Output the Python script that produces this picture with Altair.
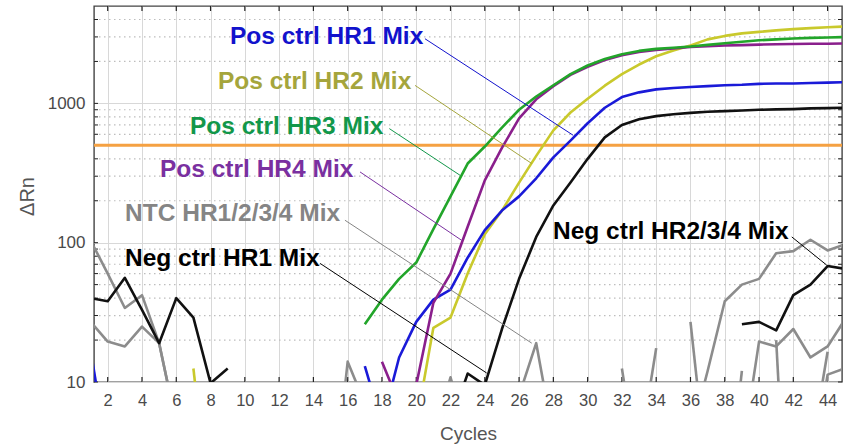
import altair as alt
import pandas as pd

# ---------------- data ----------------
# each series: list of (first_cycle, [consecutive values]) runs; gaps between runs
pos_hr1 = [(1, [17, 3]),
           (17, [13, 5, 15, 27, 39, 46, 78, 123, 170, 215, 290, 410, 540, 720, 930, 1110,
                 1200, 1260, 1290, 1310, 1330, 1350, 1360, 1380, 1390, 1390, 1400, 1410, 1420])]
pos_hr2 = [(7, [12.5, 1]),
           (20, [5, 24.5, 29, 60, 115, 170, 270, 420, 640, 860, 1080, 1340, 1620, 1900, 2180,
                 2400, 2600, 2880, 3050, 3180, 3260, 3340, 3410, 3470, 3520, 3560])]
pos_hr3 = [(17, [26, 39, 55, 72, 125, 215, 370, 490, 670, 900, 1120, 1350, 1620, 1870, 2080,
                 2250, 2380, 2460, 2510, 2560, 2630, 2700, 2770, 2840, 2880, 2920, 2950, 2970, 2990])]
pos_hr4 = [(18, [14, 7, 9.5, 37, 60, 130, 280, 480, 780, 1070, 1330, 1600, 1830, 2050, 2220,
                 2340, 2420, 2480, 2540, 2570, 2600, 2620, 2640, 2660, 2670, 2680, 2680, 2690])]
neg_hr1 = [(1, [40, 38, 56, 33, 19, 40, 29, 9.8, 12.5]),
           (22, [5, 11.5, 9.5, 24, 55, 110, 185, 270, 400, 570, 700, 770, 810, 835, 855, 870,
                 880, 890, 900, 905, 910, 920, 925, 930])]
neg_hr234 = [(39, [26, 27, 23.5, 42, 50, 68, 65])]
ntc = [(1, [104, 60, 34, 42, 19, 5]),
       (1, [27, 19.5, 18, 25, 19, 5]),
       (15, [1, 14, 7]),
       (21, [4, 10.8, 4]),
       (26, [8, 19, 4]),
       (32, [12.5, 2]),
       (33, [3, 17.5]),
       (36, [27, 2]),
       (36, [4, 12, 38, 50, 55, 84, 87, 105, 88, 97]),
       (38, [1, 12]),
       (39, [3, 19.5, 18, 24, 15, 18, 28]),
       (41, [20, 0.1]),
       (43, [3, 16.5]),
       (43, [2, 11.3, 12.5])]

threshold = 500

series_names = ["NTC", "Neg HR2/3/4", "Neg HR1", "Pos HR2", "Pos HR1", "Pos HR4", "Pos HR3"]
series_data = [ntc, neg_hr234, neg_hr1, pos_hr2, pos_hr1, pos_hr4, pos_hr3]
series_colors = ["#8c8c8c", "#111111", "#111111", "#c9c92c", "#1a1ad8", "#8a1f8c", "#22a52a"]

x_ticks = list(range(2, 45, 2))
y_major = [10, 100, 1000]
y_minor = [20, 30, 40, 50, 60, 70, 80, 90, 200, 300, 400, 500, 600, 700, 800, 900, 2000, 3000, 4000]

ann_text = ["Pos ctrl HR1 Mix", "Pos ctrl HR2 Mix", "Pos ctrl HR3 Mix", "Pos ctrl HR4 Mix",
            "NTC HR1/2/3/4 Mix", "Neg ctrl HR1 Mix", "Neg ctrl HR2/3/4 Mix"]
ann_color = ["#1212cc", "#a5a53c", "#12974a", "#7a30a0", "#858585", "#000000", "#000000"]
ann_tx = [9.13, 8.43, 6.8, 5.05, 3.01, 3.01, 27.98]
ann_ty = [3020, 1416, 673, 331, 160, 77, 119]
ann_x1 = [20.51, 19.93, 18.43, 16.72, 15.84, 14.39, 41.91]
ann_y1 = [2910, 1346, 659, 322, 145, 71, 110]
ann_x2 = [29.16, 26.74, 22.55, 22.65, 26.74, 24.11, 43.95]
ann_y2 = [590, 370, 305, 104, 19, 11.6, 69]

# ---------------- chart ----------------
W, H = 748, 376
FONT = "Liberation Sans"

rows = []
for name, runs in zip(series_names, series_data):
    for k, (start, vals) in enumerate(runs):
        for i, v in enumerate(vals):
            rows.append({"series": name, "seg": f"{name}-{k}", "cycle": start + i, "value": v})
df = pd.DataFrame(rows)

xs = alt.Scale(domain=[1.2, 44.84], nice=False, zero=False)
ys = alt.Scale(type="log", domain=[10, 5000], nice=False)

x_axis = alt.Axis(values=x_ticks, grid=True, gridColor="#d8d8d8", gridWidth=1, ticks=False,
                  domain=False, labelFont=FONT, labelFontSize=16.5, labelColor="#4a4a4a",
                  labelPadding=10, labelOverlap=False, labelSeparation=0, title="Cycles",
                  titleFont=FONT, titleFontSize=19, titleFontWeight="normal",
                  titleColor="#555555", titleY=51, titleBaseline="middle", labelFlush=False)
y_axis = alt.Axis(values=y_major, grid=True, gridColor="#d8d8d8", gridWidth=1, ticks=False,
                  domain=False, labelFont=FONT, labelFontSize=17, labelColor="#4a4a4a",
                  labelPadding=9, labelOverlap=False, format="d", title="ΔRn", titleFont=FONT,
                  titleFontSize=20, titleFontWeight="normal", titleColor="#555555", titleX=-67,
                  titleY=190, titleAlign="center", titleBaseline="middle", labelFlush=False)

X = lambda f: alt.X(f, scale=xs, axis=x_axis)
Y = lambda f: alt.Y(f, scale=ys, axis=y_axis)

base = alt.Chart(df)

grid_minor = alt.Chart(pd.DataFrame({"v": y_minor})).mark_rule(
    color="#bdbdbd", strokeDash=[1.5, 3.5], strokeWidth=1.2
).encode(y=Y("v:Q"), x=alt.value(0), x2=alt.value(W))

xbot = alt.Chart(pd.DataFrame({"c": x_ticks})).mark_rule(
    color="#222222", strokeWidth=1.2
).encode(x=X("c:Q"), y=alt.value(H), y2=alt.value(H - 5))
xtop = alt.Chart(pd.DataFrame({"c": x_ticks})).mark_rule(
    color="#222222", strokeWidth=1.2
).encode(x=X("c:Q"), y=alt.value(0), y2=alt.value(5))

yt_df = pd.DataFrame({"v": y_major + y_minor})
yleft = alt.Chart(yt_df).mark_rule(color="#222222", strokeWidth=1).encode(
    y=Y("v:Q"), x=alt.value(0), x2=alt.value(4))
yright = alt.Chart(yt_df).mark_rule(color="#222222", strokeWidth=1).encode(
    y=Y("v:Q"), x=alt.value(W - 4), x2=alt.value(W))

thr = alt.Chart(pd.DataFrame({"t": [threshold]})).mark_rule(
    color="#f5a142", strokeWidth=3).encode(y=Y("t:Q"), x=alt.value(0), x2=alt.value(W))

line_layers = []
for name, col in zip(series_names, series_colors):
    line_layers.append(
        base.transform_filter(alt.datum.series == name).mark_line(
            clip=True, strokeWidth=2.6, color=col, strokeJoin="round"
        ).encode(x=X("cycle:Q"), y=Y("value:Q"), detail="seg:N")
    )

ann = pd.DataFrame({"text": ann_text, "color": ann_color, "tx": ann_tx, "ty": ann_ty,
                    "x1": ann_x1, "y1": ann_y1, "x2": ann_x2, "y2": ann_y2})
cscale = alt.Scale(domain=ann_text, range=ann_color)
leaders = alt.Chart(ann).mark_rule(strokeWidth=1).encode(
    x=X("x1:Q"), y=Y("y1:Q"), x2="x2:Q", y2="y2:Q",
    color=alt.Color("text:N", scale=cscale, legend=None))
labels = alt.Chart(ann).mark_text(align="left", baseline="middle", font=FONT, fontSize=24.5,
                                  fontWeight="bold").encode(
    x=X("tx:Q"), y=Y("ty:Q"), text="text:N",
    color=alt.Color("text:N", scale=cscale, legend=None))

chart = alt.layer(grid_minor, xbot, xtop, yleft, yright, thr, *line_layers, leaders, labels).properties(
    width=W, height=H,
    autosize=alt.AutoSizeParams(type="none"),
    padding={"left": 94, "top": 6, "right": 2, "bottom": 62},
    background="white",
).configure_view(stroke="#444444", strokeWidth=1.4).configure_axisX(labelOverlap=False)

chart.save("out.html", embed_options={"renderer": "svg", "actions": False})
